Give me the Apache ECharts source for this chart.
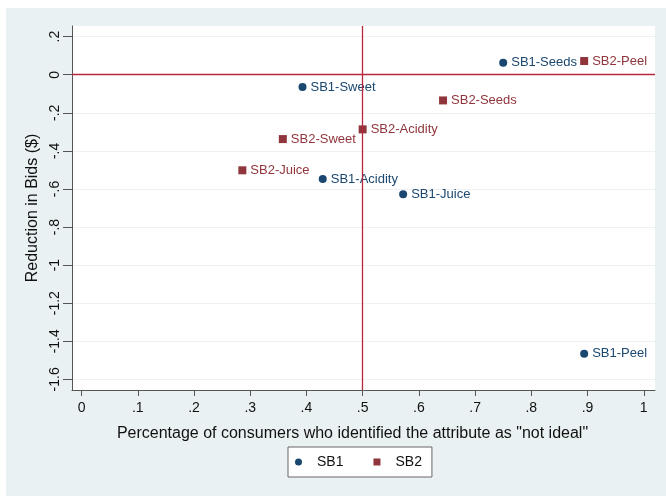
<!DOCTYPE html>
<html><head><meta charset="utf-8">
<script src="https://cdn.jsdelivr.net/npm/echarts@6/dist/echarts.min.js"></script>
<style>
html,body{margin:0;padding:0;background:#fff;}
#bg{position:absolute;left:6px;top:8px;width:660px;height:488px;background:#eaf1f3;}
#chart{position:absolute;left:0;top:0;width:666px;height:496px;}
</style></head>
<body><div id="bg"></div><div id="chart"></div>
<script>
const sb1Names = ['SB1-Seeds','SB1-Sweet','SB1-Acidity','SB1-Juice','SB1-Peel'];
const sb1X = [0.750, 0.393, 0.429, 0.572, 0.894];
const sb1Y = [0.063, -0.065, -0.548, -0.628, -1.465];
const sb2Names = ['SB2-Peel','SB2-Seeds','SB2-Acidity','SB2-Sweet','SB2-Juice'];
const sb2X = [0.894, 0.643, 0.500, 0.358, 0.286];
const sb2Y = [0.072, -0.135, -0.287, -0.338, -0.502];
const xTicks = [0,0.1,0.2,0.3,0.4,0.5,0.6,0.7,0.8,0.9,1];
const yTicks = [0.2,0,-0.2,-0.4,-0.6,-0.8,-1,-1.2,-1.4,-1.6];
const refX = 0.5, refY = 0;

const FONT = '"Liberation Sans", Arial, sans-serif';
const C1 = '#1a476f', C2 = '#90353b', REF = '#b8263f';
const fmt = v => String(+(+v).toFixed(1)).replace(/^(-?)0\./, '$1.');

const chart = echarts.init(document.getElementById('chart'), null, {renderer:'canvas'});
function pts(xs, ys, names){ return xs.map((x,i)=>({value:[x, ys[i]], name:names[i]})); }
chart.setOption({
  animation:false,
  textStyle:{fontFamily:FONT},
  grid:{left:72, top:26, right:11, bottom:106, show:true, backgroundColor:'#fff', borderWidth:0},
  xAxis:{
    type:'value', min:-0.017, max:1.02,
    name:'Percentage of consumers who identified the attribute as "not ideal"',
    nameLocation:'middle', nameGap:36,
    nameTextStyle:{fontSize:16, color:'#111', fontFamily:FONT, padding:[0,22,0,0]},
    axisLine:{show:true, onZero:false, lineStyle:{color:'#555', width:1}},
    axisTick:{show:true, length:6, customValues:xTicks, lineStyle:{color:'#555'}},
    axisLabel:{customValues:xTicks, formatter:fmt, fontSize:14, color:'#111', margin:11, fontFamily:FONT},
    splitLine:{show:false}
  },
  yAxis:{
    type:'value', min:-1.656, max:0.256,
    name:'Reduction in Bids ($)', nameLocation:'middle', nameGap:31, nameRotate:90,
    nameTextStyle:{fontSize:16, color:'#111', fontFamily:FONT},
    axisLine:{show:true, onZero:false, lineStyle:{color:'#555', width:1}},
    axisTick:{show:true, length:9, customValues:yTicks, lineStyle:{color:'#555'}},
    axisLabel:{customValues:yTicks, formatter:fmt, rotate:90, fontSize:14, color:'#111', margin:10, fontFamily:FONT},
    splitLine:{show:true, lineStyle:{color:'#edf1f3', width:1}}
  },
  legend:{
    left:288, top:447, orient:'horizontal',
    backgroundColor:'#fff', borderColor:'#666', borderWidth:1, borderRadius:0,
    padding:[8,10,8,7], itemWidth:7, itemHeight:7, itemGap:30,
    textStyle:{fontSize:14, color:'#111', fontFamily:FONT, padding:[0,0,0,10]},
    data:[{name:'SB1', icon:'circle'},{name:'SB2', icon:'rect'}]
  },
  series:[
    {name:'SB1', type:'scatter', symbol:'circle', symbolSize:8, z:3,
     itemStyle:{color:C1, opacity:1},
     label:{show:true, position:'right', distance:4, formatter:p=>p.name, color:C1, fontSize:13, fontFamily:FONT},
     data:pts(sb1X, sb1Y, sb1Names),
     markLine:{silent:true, symbol:'none', label:{show:false}, animation:false,
       lineStyle:{color:REF, width:1.3, type:'solid'},
       data:[{xAxis:refX},{yAxis:refY}]}
    },
    {name:'SB2', type:'scatter', symbol:'rect', symbolSize:8, z:3,
     itemStyle:{color:C2, opacity:1},
     label:{show:true, position:'right', distance:4, formatter:p=>p.name, color:C2, fontSize:13, fontFamily:FONT},
     data:pts(sb2X, sb2Y, sb2Names)
    }
  ]
});
</script></body></html>
